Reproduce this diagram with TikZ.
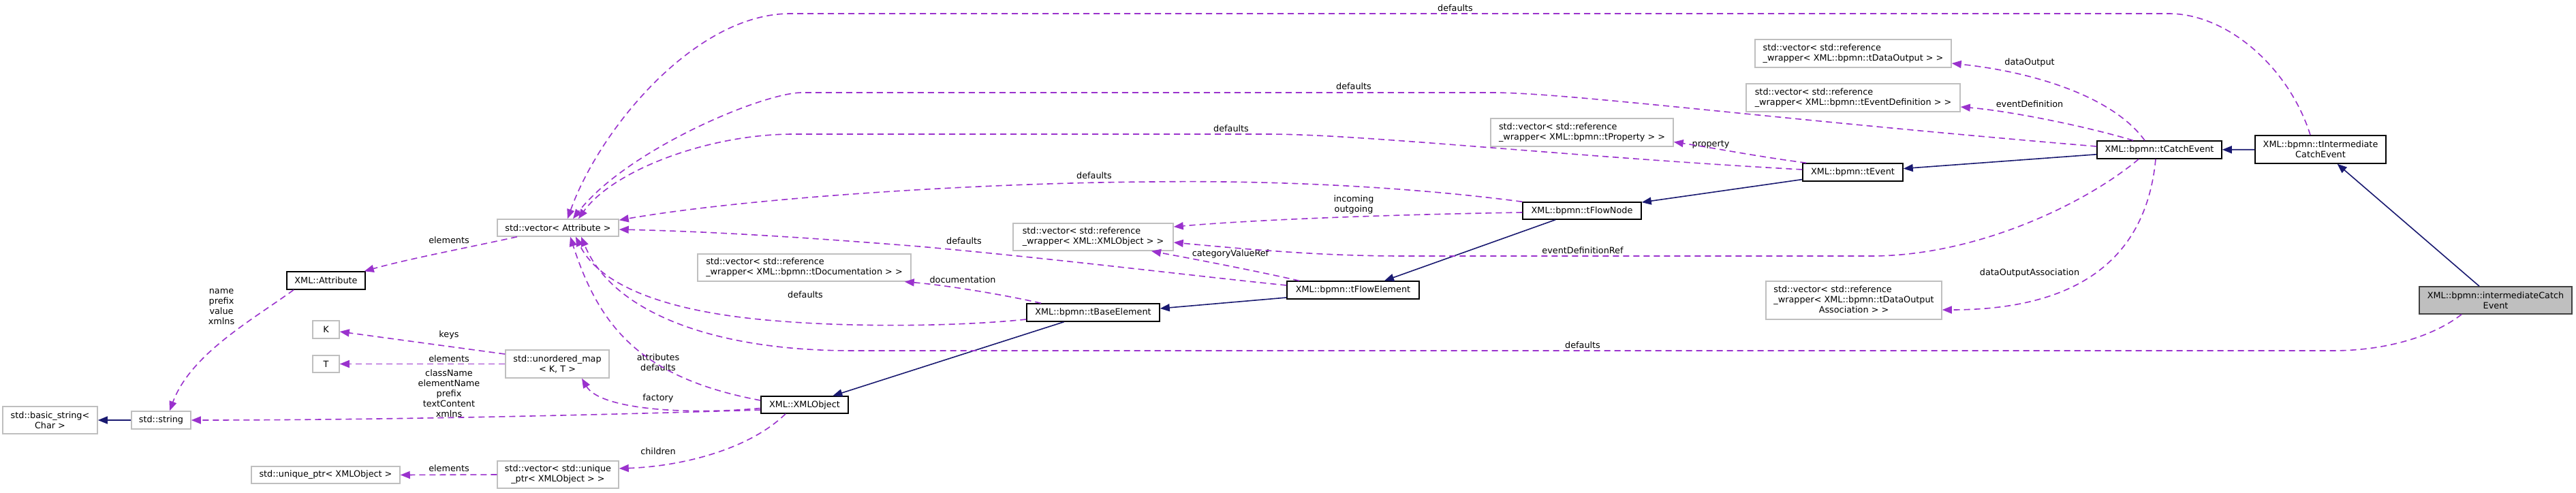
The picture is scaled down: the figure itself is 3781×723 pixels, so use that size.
\documentclass[tikz,border=0pt]{standalone}
\usepackage{fontspec}
\setmainfont{DejaVu Sans}
\usetikzlibrary{arrows.meta,calc}
\definecolor{usecol}{HTML}{9A32CD}
\definecolor{inhcol}{HTML}{191970}
\definecolor{tplgray}{HTML}{BFBFBF}
\definecolor{curfill}{HTML}{BFBFBF}
\definecolor{curdraw}{HTML}{404040}
\begin{document}
\begin{tikzpicture}[x=1pt,y=-1pt,
  font=\fontsize{12.8}{15}\selectfont,
  box/.style={rectangle, inner sep=0pt, align=center, line width=1.5pt, fill=white},
  cls/.style={box, draw=black},
  tpl/.style={box, draw=tplgray},
  cur/.style={box, draw=curdraw, fill=curfill},
  lbl/.style={inner sep=0pt, align=center},
  use/.style={draw=usecol, line width=1.6pt, dash pattern=on 9pt off 6pt,
    -{Triangle[length=14pt,width=11pt]}},
  inh/.style={draw=inhcol, line width=1.6pt,
    -{Triangle[length=14pt,width=11pt]}}]
\fill[white] (0,0) rectangle (3781,723);
\useasboundingbox (0,0) rectangle (3781,723);

% ---------- nodes ----------
\node[cur, minimum width=224pt, minimum height=40pt] (interCatch) at (3663,441) {XML::bpmn::intermediateCatch\\Event};
\node[cls, minimum width=192pt, minimum height=41pt] (tInter) at (3406,219.5) {XML::bpmn::tIntermediate\\CatchEvent};
\node[cls, minimum width=183pt, minimum height=26pt] (tCatch) at (3169.5,220) {XML::bpmn::tCatchEvent};
\node[tpl, align=left, minimum width=288pt, minimum height=41pt] (tDataOut) at (2720,78.5) {std::vector< std::reference\\\_wrapper< XML::bpmn::tDataOutput > >};
\node[tpl, align=left, minimum width=314pt, minimum height=41pt] (tEventDef) at (2720,143.5) {std::vector< std::reference\\\_wrapper< XML::bpmn::tEventDefinition > >};
\node[tpl, align=left, minimum width=268pt, minimum height=41pt] (tProp) at (2322,194.5) {std::vector< std::reference\\\_wrapper< XML::bpmn::tProperty > >};
\node[cls, minimum width=147pt, minimum height=26pt] (tEvent) at (2719.5,253) {XML::bpmn::tEvent};
\node[cls, minimum width=174pt, minimum height=25pt] (tFlowNode) at (2322,309.5) {XML::bpmn::tFlowNode};
\node[tpl, minimum width=258pt, minimum height=56pt] (doa) at (2721,441) {\begin{tabular}{@{}l@{}}std::vector< std::reference\\\_wrapper< XML::bpmn::tDataOutput\\\multicolumn{1}{@{}c@{}}{Association > >}\end{tabular}};
\node[tpl, align=left, minimum width=235pt, minimum height=40pt] (xref) at (1604.5,348) {std::vector< std::reference\\\_wrapper< XML::XMLObject > >};
\node[tpl, align=left, minimum width=313pt, minimum height=40pt] (tDoc) at (1180.5,393) {std::vector< std::reference\\\_wrapper< XML::bpmn::tDocumentation > >};
\node[cls, minimum width=194pt, minimum height=26pt] (tFlowEl) at (1986,426) {XML::bpmn::tFlowElement};
\node[cls, minimum width=195pt, minimum height=26pt] (tBase) at (1604.5,459) {XML::bpmn::tBaseElement};
\node[tpl, minimum width=178pt, minimum height=25pt] (attr) at (819,334.5) {std::vector< Attribute >};
\node[cls, minimum width=115pt, minimum height=26pt] (xattr) at (478.5,412) {XML::Attribute};
\node[tpl, minimum width=39pt, minimum height=26pt] (K) at (478.5,484) {K};
\node[tpl, minimum width=39pt, minimum height=25pt] (T) at (478.5,534.5) {T};
\node[tpl, minimum width=152pt, minimum height=41pt] (umap) at (818,534.5) {std::unordered\_map\\< K, T >};
\node[cls, minimum width=128pt, minimum height=25pt] (xmlobj) at (1181,594.5) {XML::XMLObject};
\node[tpl, minimum width=87pt, minimum height=26pt] (str) at (236.5,617) {std::string};
\node[tpl, minimum width=139pt, minimum height=40pt] (bstr) at (73.5,617) {std::basic\_string<\\Char >};
\node[tpl, minimum width=218pt, minimum height=25pt] (uptr) at (478,697.5) {std::unique\_ptr< XMLObject >};
\node[tpl, minimum width=178pt, minimum height=40pt] (vecu) at (819,697) {std::vector< std::unique\\\_ptr< XMLObject > >};

% ---------- labels ----------
\node[lbl] (lTop) at (2136,12) {defaults};
\node[lbl] (lCatch) at (1987,127) {defaults};
\node[lbl] (lEvent) at (1807,189) {defaults};
\node[lbl] (lFlowNode) at (1606,258) {defaults};
\node[lbl] (lInOut) at (1987,300) {incoming\\outgoing};
\node[lbl] (lFlowEl) at (1415,354) {defaults};
\node[lbl] (lCat) at (1806,373) {categoryValueRef};
\node[lbl] (lEdr) at (2323,368) {eventDefinitionRef};
\node[lbl] (lDataOut) at (2979,92) {dataOutput};
\node[lbl] (lEvDef) at (2979,153) {eventDefinition};
\node[lbl] (lDoa) at (2979,401) {dataOutputAssociation};
\node[lbl] (lProp) at (2511,212) {property};
\node[lbl] (lDoc) at (1413,411) {documentation};
\node[lbl] (lBase) at (1182,433) {defaults};
\node[lbl] (lBottom) at (2323,507) {defaults};
\node[lbl] (lElemA) at (659,353) {elements};
\node[lbl] (lNames) at (325,450) {name\\prefix\\value\\xmlns};
\node[lbl] (lKeys) at (659,492) {keys};
\node[lbl] (lElemT) at (659,527) {elements};
\node[lbl] (lCls) at (659,578) {className\\elementName\\prefix\\textContent\\xmlns};
\node[lbl] (lAttr) at (966,532) {attributes\\defaults};
\node[lbl] (lFact) at (966,585) {factory};
\node[lbl] (lChild) at (966,663) {children};
\node[lbl] (lElemU) at (659,688) {elements};

% ---------- inheritance ----------
\draw[inh] (interCatch) -- (tInter);
\draw[inh] (tInter) -- (tCatch);
\draw[inh] (tCatch) -- (tEvent);
\draw[inh] (tEvent) -- (tFlowNode);
\draw[inh] ([xshift=-39pt]tFlowNode.south) -- ([xshift=46pt]tFlowEl.north);
\draw[inh] ([yshift=-11pt]tFlowEl.west) -- ([yshift=6pt]tBase.east);
\draw[inh] (tBase) -- (xmlobj);
\draw[inh] (str) -- (bstr);

% ---------- usage ----------
\draw[use] ([xshift=-15pt]tInter.north) .. controls (3360,100) and (3270,20) .. (3183,20) -- (1160,20) .. controls (1020,20) and (880,190) .. ([xshift=14pt]attr.north);
\draw[use] ([yshift=5pt]tCatch.west) .. controls (2600,175) and (2300,136) .. (2190,136) -- (1177,136) .. controls (1120,136) and (920,220) .. ([xshift=22pt]attr.north);
\draw[use] ([yshift=4pt]tEvent.west) .. controls (2300,230) and (2000,197) .. (1861,197) -- (1164,197) .. controls (1040,197) and (900,250) .. ([xshift=30pt]attr.north);
\draw[use] (tFlowNode.north west) .. controls (2050,272) and (1850,265) .. (1695,267) .. controls (1450,268) and (1100,290) .. ([yshift=-2pt]attr.north east);
\draw[use] ([yshift=-2.5pt]tFlowNode.west) .. controls (2050,315) and (1850,322) .. ([yshift=15pt]xref.east);
\draw[use] ([xshift=-30.5pt]tCatch.south) .. controls (3060,300) and (2900,376) .. (2746,376) -- (2060,376) .. controls (1950,376) and (1850,368) .. ([yshift=-8pt]xref.east);
\draw[use] ([xshift=-21.5pt]tCatch.north) .. controls (3100,140) and (2980,105) .. ([yshift=-14.5pt]tDataOut.east);
\draw[use] ([xshift=-38.5pt]tCatch.north) .. controls (3060,185) and (2950,163) .. ([yshift=-13.5pt]tEventDef.east);
\draw[use] ([xshift=-5.5pt]tCatch.south) .. controls (3150,380) and (3050,455) .. ([yshift=-14pt]doa.east);
\draw[use] ([xshift=6pt]tEvent.north west) .. controls (2580,230) and (2520,218) .. ([yshift=-14pt]tProp.east);
\draw[use] ([xshift=-50pt]interCatch.south) .. controls (3570,495) and (3500,515) .. (3424,515) -- (1250,515) .. controls (1050,515) and (900,460) .. ([xshift=34pt]attr.south);
\draw[use] ([yshift=-10pt]tBase.west) .. controls (1400,480) and (1250,480) .. (1150,472) .. controls (980,460) and (880,420) .. ([xshift=26pt]attr.south);
\draw[use] ([yshift=7pt]tFlowEl.west) .. controls (1750,405) and (1550,380) .. (1350,362) .. controls (1200,350) and (1050,340) .. ([yshift=-2.5pt]attr.east);
\draw[use] ([xshift=-79pt]tFlowEl.north) .. controls (1830,395) and (1750,380) .. ([xshift=85.5pt]xref.south);
\draw[use] ([xshift=-76.5pt]tBase.north) .. controls (1460,430) and (1380,418) .. ([xshift=-10pt]tDoc.south east);
\draw[use] ([xshift=-60pt]attr.south) .. controls (680,365) and (600,380) .. ([xshift=-2pt]xattr.north east);
\draw[use] ([xshift=-47.5pt]xattr.south) .. controls (370,470) and (280,520) .. ([xshift=12.5pt]str.north);
\draw[use] ([yshift=14.5pt]umap.west) -- ([yshift=-3pt]K.east);
\draw[use] (umap.west) -- (T.east);
\draw[use] ([yshift=-7.5pt]xmlobj.west) .. controls (800,612) and (500,617) .. (str.east);
\draw[use] ([yshift=-5pt]xmlobj.west) .. controls (1000,610) and (880,600) .. ([xshift=36pt]umap.south);
\draw[use] ([yshift=6.5pt]xmlobj.west) .. controls (940,555) and (880,480) .. ([xshift=18pt]attr.south);
\draw[use] ([xshift=-28pt]xmlobj.south) .. controls (1100,660) and (1000,685) .. ([yshift=9pt]vecu.east);
\draw[use] (vecu.west) -- (uptr.east);
\end{tikzpicture}
\end{document}
